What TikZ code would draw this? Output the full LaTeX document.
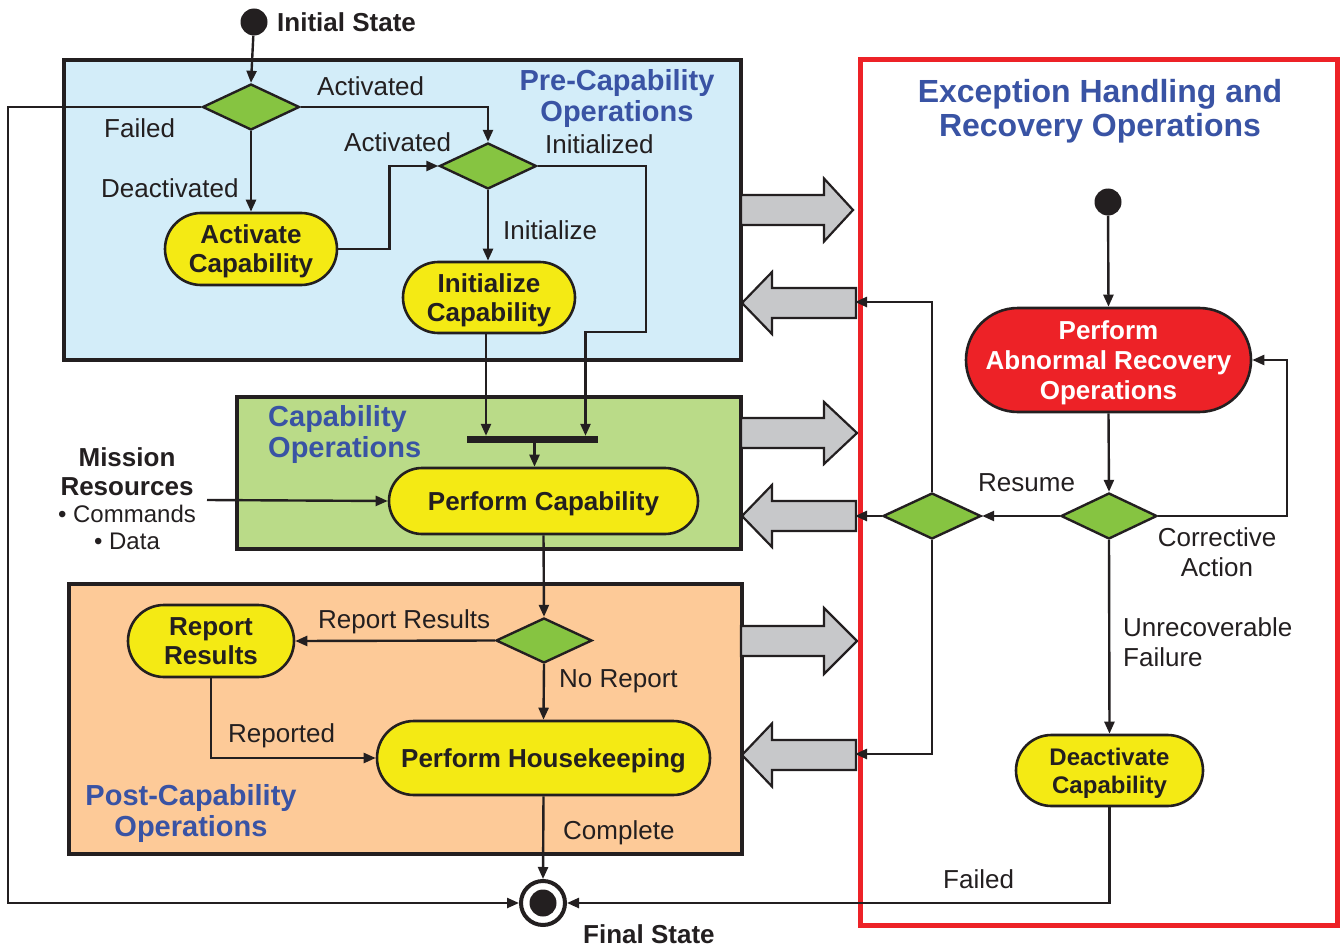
\documentclass[tikz,border=0pt]{standalone}
\usepackage{fontspec}
\setmainfont{Liberation Sans}
\usetikzlibrary{arrows.meta,shapes.geometric}

\definecolor{ink}{HTML}{231F20}
\definecolor{prefill}{HTML}{D3EDF9}
\definecolor{capfill}{HTML}{BADB88}
\definecolor{postfill}{HTML}{FDCA98}
\definecolor{actyellow}{HTML}{F4EA14}
\definecolor{choicegreen}{HTML}{86C441}
\definecolor{alertred}{HTML}{ED2227}
\definecolor{arrowgray}{HTML}{C7C8CA}
\definecolor{titleblue}{HTML}{3953A4}

\begin{document}
\begin{tikzpicture}[x=1pt,y=-1pt,
  conn/.style={draw=ink, line width=2.4pt},
  arr/.style={conn, -{Triangle[length=12pt,width=10pt]}},
  region/.style={draw=ink, line width=4pt, rectangle, inner sep=0pt},
  action/.style={draw=ink, line width=2.6pt, fill=actyellow, rectangle,
    align=center, font=\bfseries\fontsize{26}{29}\selectfont, text=ink,
    inner sep=0pt, text depth=0pt},
  choice/.style={draw=ink, line width=2.4pt, fill=choicegreen, diamond,
    inner sep=0pt, minimum width=97pt, minimum height=46pt},
  lbl/.style={font=\fontsize{26}{30}\selectfont, text=ink, inner sep=0pt},
  boldlbl/.style={font=\bfseries\fontsize{26}{29}\selectfont, text=ink, inner sep=0pt},
  ttl/.style={font=\bfseries\fontsize{29}{31.5}\selectfont, text=titleblue, inner sep=0pt},
  blockarrow/.style={draw=ink, line width=2.2pt, fill=arrowgray, line join=miter},
  startdot/.style={circle, fill=ink, minimum size=27pt, inner sep=0pt},
]
\useasboundingbox (0,0) rectangle (1342,947);

% ---------- swimlane regions ----------
\node[region, fill=prefill, minimum width=677pt, minimum height=300pt] (prebox) at (402.5,210) {};
\node[region, fill=capfill, minimum width=504pt, minimum height=152pt] (capbox) at (489,473) {};
\node[region, fill=postfill, minimum width=673pt, minimum height=270pt] (postbox) at (405.5,719) {};

% ---------- block arrows between the lanes and exception handling ----------
\foreach \c/\t/\h in {210/853/31.5, 433/857/31, 641/857/33} {
  \draw[blockarrow] (741,{\c-15}) -- (824,{\c-15}) -- (824,{\c-\h}) -- (\t,\c)
    -- (824,{\c+\h}) -- (824,{\c+15}) -- (741,{\c+15}) -- cycle;
}
\foreach \c/\h in {303/31, 516/31, 755/31.5} {
  \draw[blockarrow] (856,{\c-15}) -- (772,{\c-15}) -- (772,{\c-\h}) -- (742,\c)
    -- (772,{\c+\h}) -- (772,{\c+15}) -- (856,{\c+15}) -- cycle;
}

% ---------- exception handling frame ----------
\node[draw=alertred, line width=5pt, rectangle, inner sep=0pt,
      minimum width=477pt, minimum height=865pt] (excbox) at (1098.5,492.5) {};

% ---------- titles ----------
\node[ttl, anchor=north, align=center] (pretitle) at (617,69) {Pre-Capability\\Operations};
\node[ttl, anchor=north west, align=left] (captitle) at (268,405) {Capability\\Operations};
\node[ttl, anchor=north, align=center] (posttitle) at (191,784) {Post-Capability\\Operations};
\node[font=\bfseries\fontsize{32}{34}\selectfont, text=titleblue, inner sep=0pt,
      anchor=north, align=center] (exctitle) at (1100,79) {Exception Handling and\\Recovery Operations};

% ---------- main flow nodes ----------
\node[startdot] (init) at (254,22) {};
\node[boldlbl, anchor=base west] (inittext) at (277,32) {Initial State};

\node[choice] (d1) at (251,107) {};
\node[choice] (d2) at (488,166) {};
\node[action, minimum width=172pt, minimum height=72pt, rounded corners=36pt] (actcap) at (251,249) {Activate\\Capability};
\node[action, minimum width=172pt, minimum height=71pt, rounded corners=35.5pt] (initcap) at (489,297.5) {Initialize\\Capability};

\node[fill=ink, rectangle, inner sep=0pt, minimum width=131pt, minimum height=7pt] (fork) at (532.5,439.5) {};
\node[action, minimum width=309pt, minimum height=66pt, rounded corners=33pt] (perfcap) at (543.5,501) {Perform Capability};

\node[boldlbl, anchor=north, align=center] (mission) at (127,447) {Mission\\Resources};
\node[font=\fontsize{24}{27}\selectfont, text=ink, inner sep=0pt, anchor=north, align=center] (missionitems) at (127,505) {\textbullet\ Commands\\\textbullet\ Data};
\coordinate (mrsrc) at (207,500);

\node[choice, minimum width=96pt, minimum height=45pt] (d3) at (544,640.5) {};
\node[action, minimum width=166pt, minimum height=72pt, rounded corners=36pt] (repres) at (211,641) {Report\\Results};
\node[action, minimum width=333pt, minimum height=74pt, rounded corners=37pt] (housek) at (543.5,758) {Perform Housekeeping};

\node[circle, draw=ink, line width=4pt, fill=white, minimum size=44pt, inner sep=0pt] (final) at (543,903) {};
\fill[ink] (final.center) circle (13.5);
\node[boldlbl, anchor=base west] (finaltext) at (583,943) {Final State};

% ---------- exception handling nodes ----------
\node[startdot] (init2) at (1108,202) {};
\node[action, fill=alertred, text=white, minimum width=285pt, minimum height=104pt, rounded corners=52pt,
      font=\bfseries\fontsize{26}{30}\selectfont] (paro) at (1108.5,360) {Perform\\Abnormal Recovery\\Operations};
\node[choice, minimum width=96pt] (d5) at (1109,516) {};
\node[choice, minimum width=98pt] (d4) at (932,516) {};
\node[action, minimum width=187pt, minimum height=71pt, rounded corners=35.5pt,
      font=\bfseries\fontsize{24}{28}\selectfont] (deact) at (1109.5,770.5) {Deactivate\\Capability};

\coordinate (lrail) at (8,0);
\coordinate (ba1end) at (855,302);
\coordinate (ba2end) at (855,516);
\coordinate (ba3end) at (855,754);

% ---------- connectors ----------
\draw[arr] (init) -- (d1.north);
\draw[arr] (d1.east) -| (d2.north);
\draw[arr] (d1.west) -| (lrail |- final) -- (final.west);
\draw[arr] (d1.south) -- (actcap.north);
\draw[arr] (actcap.east) -- ++(51,0) |- (d2.west);
\draw[arr] (d2.south) -- (d2.south |- initcap.north);
\draw[arr] (d2.east) -| ++(108,166) -| ([xshift=53pt]fork.north);
\draw[arr] ([xshift=-3pt]initcap.south) -- ([xshift=-3pt]initcap.south |- fork.north);
\draw[arr] ([xshift=2pt]fork.south) -- ([xshift=2pt]fork.south |- perfcap.north);
\draw[arr] (mrsrc) -- (perfcap.west);
\draw[arr] (perfcap.south) -- (d3.north);
\draw[arr] (d3.west) -- (repres.east);
\draw[arr] (repres.south) |- (housek.west);
\draw[arr] (d3.south) -- (housek.north);
\draw[arr] (housek.south) -- (final.north);

\draw[arr] (init2) -- (paro.north);
\draw[arr] (paro.south) -- (d5.north);
\draw[arr] (d5.east) -- ++(129,0) |- (paro.east);
\draw[arr] (d5.west) -- (d4.east);
\draw[arr] (d4.west) -- (ba2end);
\draw[arr] (d4.north) |- (ba1end);
\draw[arr] (d4.south) |- (ba3end);
\draw[arr] (d5.south) -- (deact.north);
\draw[arr] (deact.south) |- (final.east);

% ---------- transition labels ----------
\node[lbl, anchor=base west] at (317,96) {Activated};
\node[lbl, anchor=base west] at (104,138) {Failed};
\node[lbl, anchor=base west] at (101,197) {Deactivated};
\node[lbl, anchor=base west] at (344,152) {Activated};
\node[lbl, anchor=base west] at (545,154) {Initialized};
\node[lbl, anchor=base west] at (503,240) {Initialize};
\node[lbl, anchor=base west] at (318,628) {Report Results};
\node[lbl, anchor=base west] at (228,742) {Reported};
\node[lbl, anchor=base west] at (559,687) {No Report};
\node[lbl, anchor=base west] at (563,839) {Complete};
\node[lbl, anchor=base west] at (978,491) {Resume};
\node[lbl, anchor=north, align=center] at (1217,527) {Corrective\\Action};
\node[lbl, anchor=north west, align=left] at (1123,617) {Unrecoverable\\Failure};
\node[lbl, anchor=base west] at (943,888) {Failed};
\end{tikzpicture}
\end{document}
